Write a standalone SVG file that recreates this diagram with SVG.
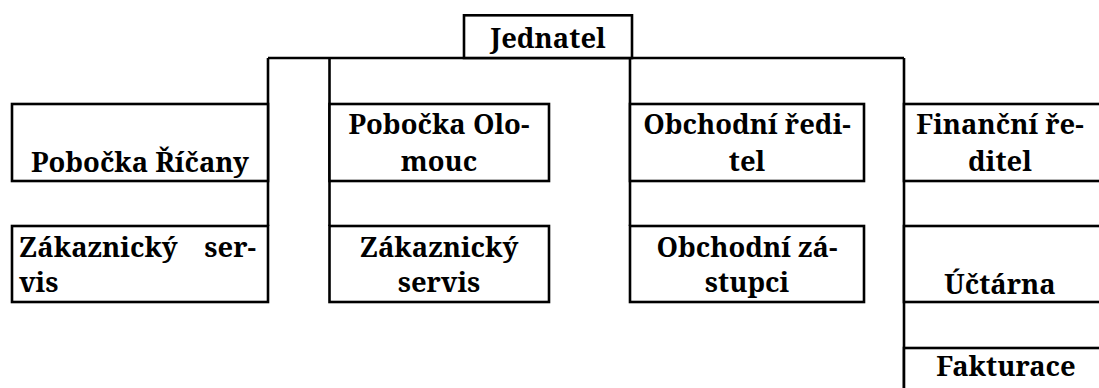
<svg xmlns="http://www.w3.org/2000/svg" width="1099" height="388" viewBox="0 0 1099 388">
  <style>
    .box { fill: #fff; stroke: #000; stroke-width: 2.6; }
    .line { fill: none; stroke: #000; stroke-width: 2.6; }
    text { font-family: "Noto Serif", "DejaVu Serif", serif; font-weight: bold; font-size: 27.4px; fill: #000; }
    .c { text-anchor: middle; }
  </style>
  <rect x="0" y="0" width="1099" height="388" fill="#fff"/>

  <!-- connectors: top bus and column trunks -->
  <g id="connectors">
    <line class="line" x1="268" y1="58" x2="904" y2="58"/>
    <line class="line" x1="268" y1="58" x2="268" y2="226"/>
    <line class="line" x1="329.5" y1="58" x2="329.5" y2="226"/>
    <line class="line" x1="630" y1="58" x2="630" y2="226"/>
    <line class="line" x1="904" y1="58" x2="904" y2="390"/>
  </g>

  <g id="jednatel">
    <rect class="box" x="464" y="15.3" width="168" height="42.7"/>
    <text class="c" x="548" y="48">Jednatel</text>
  </g>

  <g id="pobocka-ricany">
    <rect class="box" x="12" y="104" width="256" height="77"/>
    <text class="c" x="140" y="172">Pobočka Říčany</text>
  </g>

  <g id="zakaznicky-servis-ricany">
    <rect class="box" x="12" y="226" width="256" height="76"/>
    <text x="19" y="257">Zákaznický</text>
    <text x="256" y="257" text-anchor="end">ser-</text>
    <text x="19" y="292">vis</text>
  </g>

  <g id="pobocka-olomouc">
    <rect class="box" x="329.5" y="104" width="219.5" height="77"/>
    <text class="c" x="439" y="134">Pobočka Olo-</text>
    <text class="c" x="439" y="171">mouc</text>
  </g>

  <g id="zakaznicky-servis-olomouc">
    <rect class="box" x="329.5" y="226" width="219.5" height="76"/>
    <text class="c" x="439" y="257">Zákaznický</text>
    <text class="c" x="439" y="292">servis</text>
  </g>

  <g id="obchodni-reditel">
    <rect class="box" x="630" y="104" width="234" height="77"/>
    <text class="c" x="747" y="134">Obchodní ředi-</text>
    <text class="c" x="747" y="171">tel</text>
  </g>

  <g id="obchodni-zastupci">
    <rect class="box" x="630" y="226" width="234" height="76"/>
    <text class="c" x="747" y="257">Obchodní zá-</text>
    <text class="c" x="747" y="292">stupci</text>
  </g>

  <g id="financni-reditel">
    <rect class="box" x="904" y="104" width="210" height="77"/>
    <text class="c" x="1000" y="134">Finanční ře-</text>
    <text class="c" x="1000" y="171">ditel</text>
  </g>

  <g id="uctarna">
    <rect class="box" x="904" y="226" width="210" height="76"/>
    <text class="c" x="1000" y="294">Účtárna</text>
  </g>

  <g id="fakturace">
    <rect class="box" x="904" y="348" width="210" height="60"/>
    <text class="c" x="1006" y="376">Fakturace</text>
  </g>
</svg>
